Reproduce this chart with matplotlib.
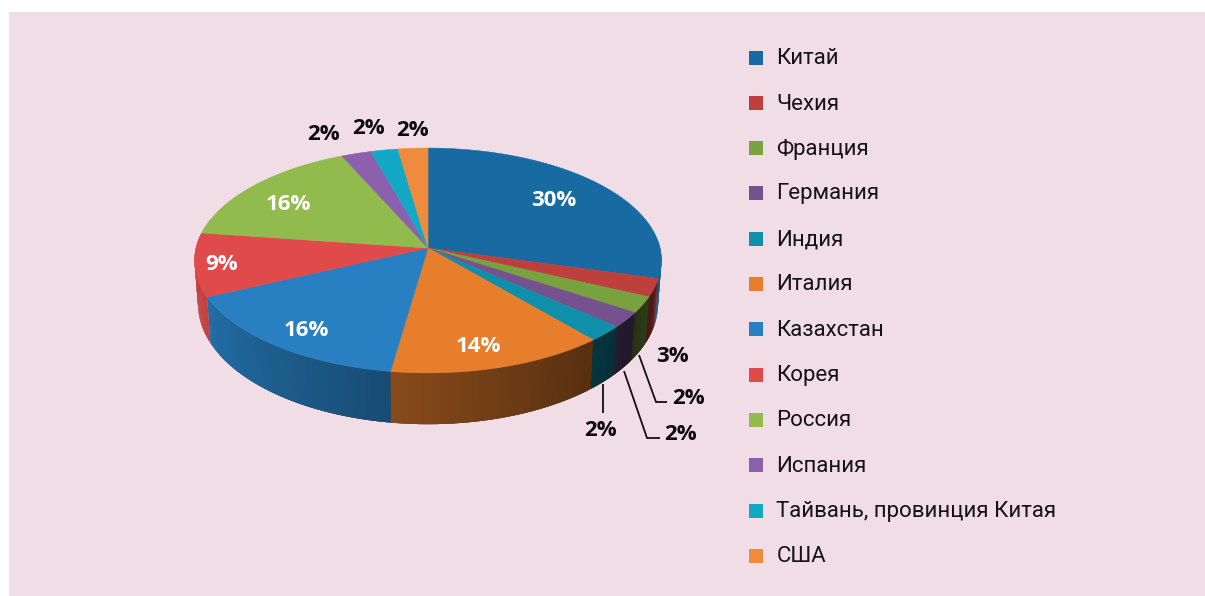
import numpy as np
import matplotlib
matplotlib.use('Agg')
import matplotlib.pyplot as plt
from matplotlib.patches import Polygon, Rectangle
from matplotlib.collections import PolyCollection

# data
countries = ['Китай', 'Чехия', 'Франция', 'Германия', 'Индия', 'Италия',
             'Казахстан', 'Корея', 'Россия', 'Испания', 'Тайвань, провинция Китая', 'США']
# slice sizes, the printed labels are separate
shares = [29.3, 2.6, 2.3, 2.2, 2.3, 13.6, 15.8, 9.1, 16.1, 2.3, 2.1, 2.3]
percent_labels = ['30%', '3%', '2%', '2%', '2%', '14%', '16%', '9%', '16%', '2%', '2%', '2%']
colors = ['#176aa2', '#bd403d', '#78a23e', '#75518d', '#0f8fa9', '#e67e2b',
          '#2880c2', '#e04a4b', '#92bb4d', '#8d60ad', '#13a9c6', '#ef8b3d']

# layout, in pixels of the figure
BG = '#f1dde6'
CX, CY = 428, 248
A, B, K = 111, 232, 1 / 9
DEPTH = 43
label_pos = [(554, 200), (672, 356), (688, 398), (680, 434), (600, 430), (478, 346),
             (306, 330), (222, 264), (288, 204), (323, 134), (368, 128), (412, 130)]
label_white = [True, False, False, False, False, True, True, True, True, False, False, False]
leaders = [[(639, 355), (656, 402), (667, 402)],
           [(624, 371), (647, 438), (660, 438)],
           [(603, 384), (603, 413)]]
legend_y = [58, 103, 148, 193, 239, 284, 329, 375, 420, 465, 511, 556]


def top_rim(theta):
    # circle seen in perspective, theta clockwise from the top
    u, v = np.sin(theta), np.cos(theta)
    w = 1 + K * v
    return CX + B * u / w, CY - A * v / w


def bottom_rim(theta):
    x, y = top_rim(theta)
    w = 1 + K * np.cos(theta)
    return CX + (x - CX) * 0.985, y + DEPTH / w ** 1.5


def side_shade(theta):
    # side of the pie gets darker towards the right
    deg = np.degrees(theta)
    return np.interp(deg, [90, 104, 108, 125, 140, 190, 245, 280], [0.9, 0.8, 0.42, 0.3, 0.38, 0.6, 0.86, 0.9])


fig = plt.figure(figsize=(12.05, 5.96), dpi=100, facecolor='white')
ax = fig.add_axes([0, 0, 1, 1])
ax.set_xlim(0, 1205)
ax.set_ylim(596, 0)
ax.axis('off')
ax.add_patch(Rectangle((9, 12), 1196, 584, facecolor=BG, edgecolor='none'))

edges = np.radians(np.cumsum([0] + shares) / sum(shares) * 360)

# dark band under the whole side, so no background bleeds through between slices
t_all = np.radians(np.arange(110, 240, 0.5))
xa0, ya0 = top_rim(t_all)
xa1, ya1 = bottom_rim(t_all)
band = list(zip(xa0, ya0)) + list(zip(xa1[::-1], ya1[::-1]))
ax.add_patch(Polygon(band, closed=True, facecolor='#3a2a20', edgecolor='none'))

# sides first, then the top faces over them
for i, color in enumerate(colors):
    t = np.arange(edges[i], edges[i + 1], np.radians(0.5))
    t = np.append(t, edges[i + 1])
    t = t[(t > np.radians(85)) & (t < np.radians(285))]
    if len(t) < 2:
        continue
    x0, y0 = top_rim(t)
    x1, y1 = bottom_rim(t)
    quads, quad_colors = [], []
    for j in range(len(t) - 1):
        # each quad runs under the next one so no seams show
        e = min(j + 2, len(t) - 1)
        quads.append([(x0[j], y0[j]), (x0[e], y0[e]), (x1[e], y1[e]), (x1[j], y1[j])])
        rgb = np.array(matplotlib.colors.to_rgb(color)) * side_shade((t[j] + t[j + 1]) / 2)
        quad_colors.append(rgb)
    # draw from the far end so the overlap order stays the same
    ax.add_collection(PolyCollection(quads[::-1], facecolors=quad_colors[::-1], edgecolors='none'))

for i, color in enumerate(colors):
    t = np.linspace(edges[i], edges[i + 1], 80)
    x, y = top_rim(t)
    pts = [(CX, CY)] + list(zip(x, y))
    ax.add_patch(Polygon(pts, closed=True, facecolor=color, edgecolor=color, linewidth=0.4))

for pts in leaders:
    ax.plot(*zip(*pts), color='#111111', lw=1.3, solid_capstyle='butt', solid_joinstyle='miter')

for lab, pos, white in zip(percent_labels, label_pos, label_white):
    ax.text(pos[0], pos[1], lab, ha='center', va='center', fontsize=16, fontweight='bold',
            family='Open Sans', color='white' if white else '#0c0c0c')

for name, color, y in zip(countries, colors, legend_y):
    ax.add_patch(Rectangle((749, y - 7), 14, 14, facecolor=color, edgecolor='none'))
    ax.text(776.5, y + 1, name, ha='left', va='center', fontsize=16, family='Roboto', color='#141414')

fig.savefig('out.png', dpi=100, facecolor='white')
